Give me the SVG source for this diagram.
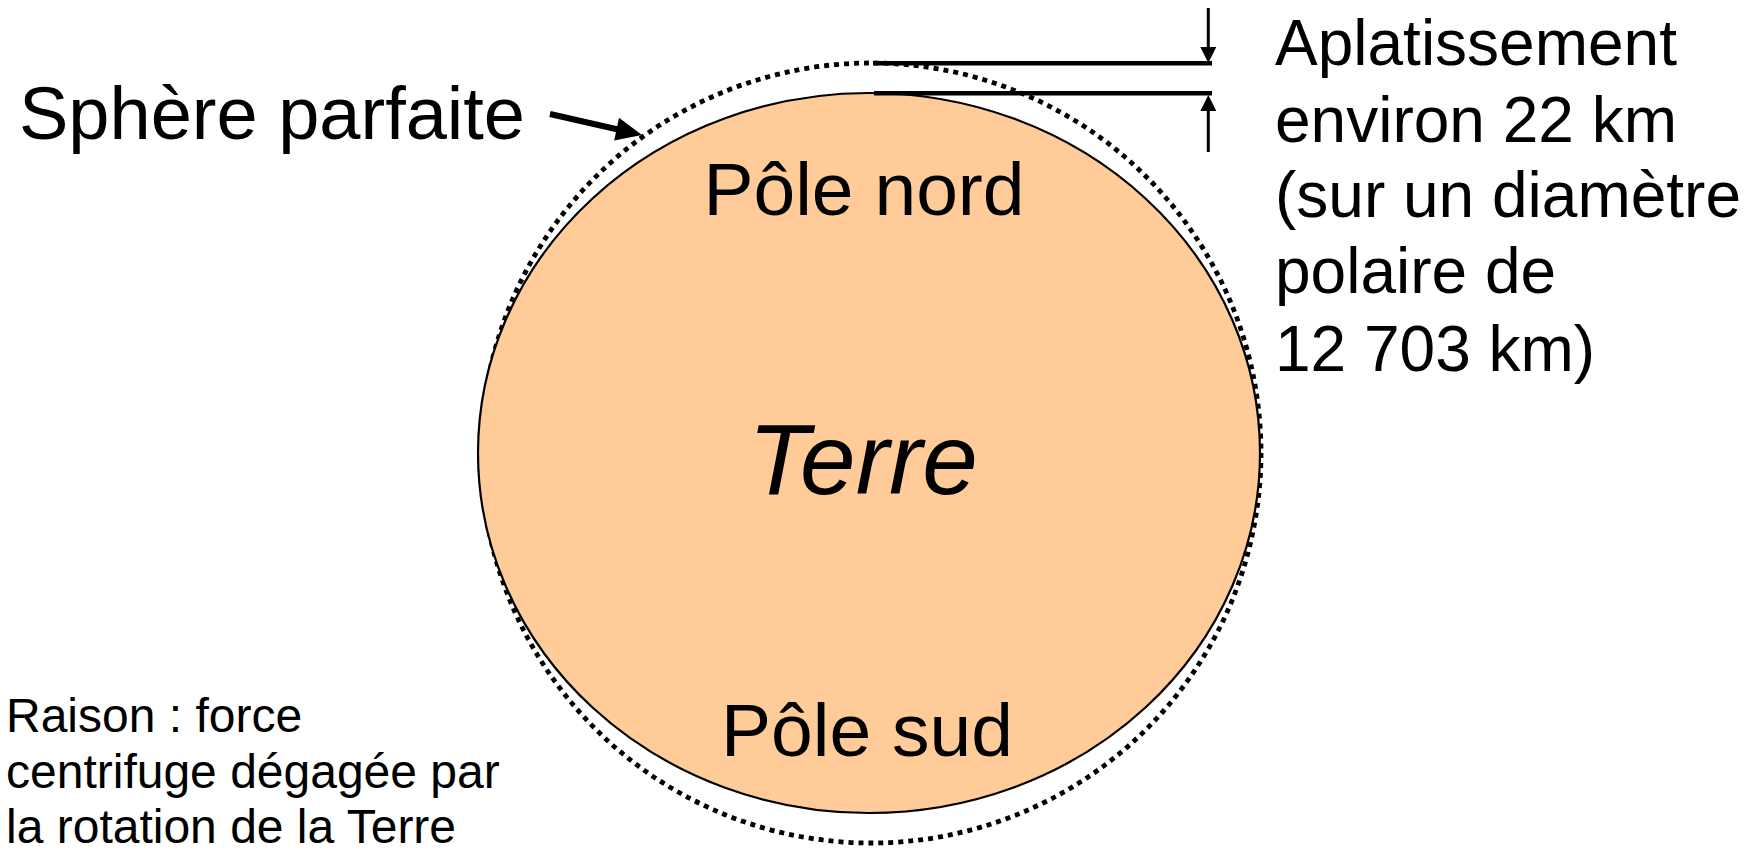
<svg xmlns="http://www.w3.org/2000/svg" width="1758" height="850" viewBox="0 0 1758 850">
<style>
text{font-family:"Liberation Sans",Arial,sans-serif;fill:#000}
.dot{fill:none;stroke:#000;stroke-width:4.8;stroke-dasharray:5 5}
.earth{fill:#FFCC99;stroke:#000;stroke-width:2.2}
.ln{stroke:#000;stroke-width:4.5;fill:none}
.ar{stroke:#000;stroke-width:3;fill:none}
</style>
<rect width="1758" height="850" fill="#fff"/>
<g id="sphere">
<circle class="dot" cx="871" cy="453" r="390"/>
</g>
<g id="terre">
<ellipse class="earth" cx="869" cy="453" rx="391" ry="360"/>
<text x="863" y="494" font-size="100" font-style="italic" text-anchor="middle">Terre</text>
</g>
<g id="pole-nord"><text x="864" y="215" font-size="75" text-anchor="middle">Pôle nord</text></g>
<g id="pole-sud"><text x="867" y="756" font-size="75" text-anchor="middle">Pôle sud</text></g>
<g id="label-sphere"><text x="19" y="139" font-size="74">Sphère parfaite</text></g>
<g id="label-aplatissement" font-size="64">
<text x="1275" y="65">Aplatissement</text>
<text x="1275" y="142">environ 22 km</text>
<text x="1275" y="217">(sur un diamètre</text>
<text x="1275" y="293">polaire de</text>
<text x="1275" y="371">12 703 km)</text>
</g>
<g id="label-raison" font-size="48">
<text x="6" y="732">Raison : force</text>
<text x="6" y="788">centrifuge dégagée par</text>
<text x="6" y="843">la rotation de la Terre</text>
</g>
<g id="connectors">
<line class="ln" x1="873" y1="63.3" x2="1212" y2="63.3"/>
<line class="ln" x1="874" y1="93.3" x2="1212" y2="93.3"/>
<line class="ar" x1="1208.3" y1="8" x2="1208.3" y2="48"/>
<polygon points="1200.3,47 1216.3,47 1208.3,63"/>
<line class="ar" x1="1208.3" y1="152" x2="1208.3" y2="110"/>
<polygon points="1200.3,111 1216.3,111 1208.3,95"/>
<line x1="550" y1="114" x2="618" y2="129.5" stroke="#000" stroke-width="6"/>
<polygon points="642,135 614.2,140.5 619,117.8"/>
</g>
</svg>
